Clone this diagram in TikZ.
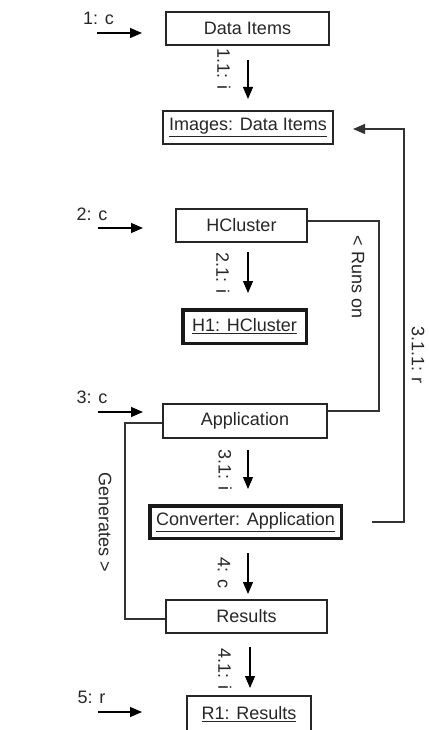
\documentclass[tikz,border=0pt]{standalone}
\usepackage{fontspec}
\setmainfont{Liberation Sans}
\usetikzlibrary{arrows.meta,calc}
\begin{document}
\begin{tikzpicture}[x=1pt,y=-1pt,
  every node/.style={font=\fontsize{18}{20}\selectfont, inner sep=0pt, text=black!85},
  cls/.style={draw=black!85, line width=1.2pt, minimum height=33pt},
  obj/.style={draw=black!90, line width=3.5pt, minimum height=33pt},
  lbl/.style={rotate=-90},
  msg/.style={line width=1.1pt, -{Triangle[length=12pt,width=10pt]}},
  link/.style={draw=black!80, line width=1.1pt}
]
\useasboundingbox (0,0) rectangle (428,730);

% class / object boxes
\node[cls, minimum width=163pt] (di) at (247.5,28.5) {Data Items};
\node[cls, minimum width=170pt] (img) at (248,127.5) {\underline{Images: Data Items}};
\node[cls, minimum width=131pt] (hc) at (241.5,225.5) {HCluster};
\node[obj, minimum width=123.5pt, minimum height=33.5pt] (h1) at (244.5,326.5) {\underline{H1: HCluster}};
\node[cls, minimum width=164pt, minimum height=34pt] (app) at (245,421) {Application};
\node[obj, minimum width=191.5pt, minimum height=32.5pt] (conv) at (245.5,522) {\underline{Converter: Application}};
\node[cls, minimum width=161pt] (res) at (246.5,616.5) {Results};
\node[cls, minimum width=124pt, minimum height=36pt] (r1) at (249,714) {\underline{R1: Results}};

% incoming messages on the left
\coordinate (m1s) at (97,33);  \coordinate (m1e) at (142,33);
\coordinate (m2s) at (98,228); \coordinate (m2e) at (143,228);
\coordinate (m3s) at (98,412); \coordinate (m3e) at (143,412);
\coordinate (m5s) at (98,712); \coordinate (m5e) at (142,712);
\draw[msg] (m1s) -- (m1e);
\draw[msg] (m2s) -- (m2e);
\draw[msg] (m3s) -- (m3e);
\draw[msg] (m5s) -- (m5e);
\node (l1) at (98.5,18) {1: c};
\node (l2) at (92,214) {2: c};
\node (l3) at (92,397) {3: c};
\node (l5) at (91.5,697) {5: r};

% vertical messages
\coordinate (v1s) at (248,60);  \coordinate (v1e) at (248,99);
\coordinate (v2s) at (248,252); \coordinate (v2e) at (248,293);
\coordinate (v3s) at (248,450); \coordinate (v3e) at (248,489);
\coordinate (v4s) at (248,553); \coordinate (v4e) at (248,594);
\coordinate (v5s) at (250,647); \coordinate (v5e) at (250,688);
\draw[msg] (v1s) -- (v1e);
\draw[msg] (v2s) -- (v2e);
\draw[msg] (v3s) -- (v3e);
\draw[msg] (v4s) -- (v4e);
\draw[msg] (v5s) -- (v5e);
\node[lbl] (t1) at (224,69) {1.1: i};
\node[lbl] (t2) at (223,273) {2.1: i};
\node[lbl] (t3) at (225,470) {3.1: i};
\node[lbl] (t4) at (224,573) {4: c};
\node[lbl] (t5) at (225,669) {4.1: i};

% Runs on
\coordinate (runs) at (379,300);
\draw[link] ([yshift=4.5pt]hc.east) -| (runs) |- ([yshift=10pt]app.east);
\node[lbl] (lruns) at (358,277) {< Runs on};

% Generates
\coordinate (gen) at (125,520);
\draw[link] ([yshift=-2pt]app.west) -| (gen) |- ([yshift=-2.5pt]res.west);
\node[lbl] (lgen) at (105,522) {Generates >};

% 3.1.1: r return
\coordinate (rs) at (372,522);
\coordinate (rc) at (404,300);
\coordinate (re) at (353,129);
\draw[line width=1.1pt, draw=black!80, -{Triangle[length=12pt,width=10pt]}] (rs) -| (rc) |- (re);
\node[lbl] (lret) at (418,355) {3.1.1: r};
\end{tikzpicture}
\end{document}
